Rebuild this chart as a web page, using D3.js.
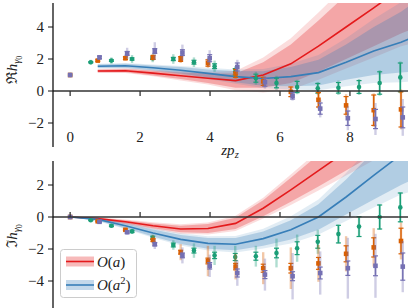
<!DOCTYPE html>
<html>
<head>
<meta charset="utf-8">
<script src="https://cdn.jsdelivr.net/npm/d3@7"></script>
<style>
  body { margin: 0; background: #fff; }
  text { font-family: "Liberation Serif", "DejaVu Serif", serif; }
</style>
</head>
<body>
<div id="chart"></div>
<script>
// z positions of the three lattice data sets
var zGreen  = [0, 0.59, 1.18, 1.77, 2.36, 2.95, 3.54, 4.13, 4.72, 5.31, 5.9, 6.49, 7.08, 7.67, 8.26, 8.85, 9.44];
var zOrange = [0, 0.79, 1.58, 2.37, 3.16, 3.94, 4.73, 5.52, 6.31, 7.1, 7.89, 8.68, 9.46];
var zPurple = [0, 0.84, 1.63, 2.42, 3.21, 3.99, 4.78, 5.57, 6.36, 7.15, 7.94, 8.73, 9.51];

// real part
var reGreen     = [1.0, 1.8, 1.9, 2.0, 2.05, 2.0, 1.8, 1.55, 1.2, 0.8, 0.5, 0.25, 0.17, 0.2, 0.25, 0.5, 0.85];
var reGreenErr  = [0, 0.04, 0.05, 0.07, 0.08, 0.1, 0.12, 0.15, 0.2, 0.25, 0.3, 0.35, 0.3, 0.33, 0.4, 0.7, 0.9];
var reGreenSys  = [0, 0.15, 0.2, 0.25, 0.25, 0.3, 0.3, 0.35, 0.35, 0.4, 0.45, 0.45, 0.4, 0.45, 0.5, 0.8, 1.0];
var reOrange    = [1.0, 1.9, 2.05, 2.1, 2.0, 1.75, 1.1, 0.6, -0.05, -0.55, -0.9, -1.2, -1.15];
var reOrangeErr = [0, 0.05, 0.08, 0.12, 0.15, 0.2, 0.25, 0.25, 0.3, 0.45, 0.55, 0.95, 1.1];
var reOrangeSys = [0, 0.1, 0.15, 0.2, 0.25, 0.3, 0.35, 0.35, 0.35, 0.55, 0.7, 1.05, 1.25];
var rePurple    = [1.0, 2.1, 2.35, 2.5, 2.4, 2.05, 1.5, 0.55, -0.3, -1.1, -1.7, -1.75, -1.65];
var rePurpleErr = [0, 0.08, 0.12, 0.15, 0.18, 0.22, 0.25, 0.25, 0.2, 0.35, 0.45, 0.6, 0.65];
var rePurpleSys = [0, 0.15, 0.35, 0.55, 0.5, 0.5, 0.45, 0.4, 0.3, 0.55, 0.75, 1.0, 1.15];

// imaginary part
var imGreen     = [0, -0.2, -0.55, -0.9, -1.3, -1.75, -2.1, -2.4, -2.5, -2.45, -2.25, -1.95, -1.55, -1.07, -0.6, 0.0, 0.6];
var imGreenErr  = [0, 0.03, 0.05, 0.07, 0.1, 0.12, 0.15, 0.2, 0.22, 0.25, 0.3, 0.4, 0.4, 0.55, 0.62, 0.75, 0.9];
var imGreenSys  = [0, 0.08, 0.1, 0.15, 0.2, 0.3, 0.45, 0.6, 0.7, 0.65, 0.9, 0.85, 0.75, 0.6, 0.65, 0.8, 0.95];
var imOrange    = [0, -0.27, -0.8, -1.44, -2.2, -2.75, -3.1, -3.2, -3.2, -2.9, -2.3, -1.9, -1.5];
var imOrangeErr = [0, 0.03, 0.05, 0.08, 0.12, 0.18, 0.2, 0.25, 0.3, 0.37, 0.5, 0.6, 0.8];
var imOrangeSys = [0, 0.05, 0.12, 0.3, 0.5, 0.95, 0.8, 1.0, 1.3, 1.15, 1.1, 1.2, 1.15];
var imPurple    = [0, -0.3, -0.95, -1.7, -2.4, -3.05, -3.5, -3.6, -3.7, -3.5, -3.2, -3.05, -3.1];
var imPurpleErr = [0, 0.03, 0.06, 0.1, 0.15, 0.2, 0.25, 0.25, 0.28, 0.37, 0.45, 0.62, 0.85];
var imPurpleSys = [0, 0.08, 0.15, 0.3, 0.5, 0.7, 0.8, 1.0, 1.45, 1.35, 1.9, 2.0, 1.6];

// fit bands O(a) (red) and O(a^2) (blue)
var zFitRe     = [0.79, 1.58, 2.37, 3.16, 3.94, 4.73, 5.52, 6.31, 7.1, 7.89, 8.68, 9.46, 9.75];
var reRed      = [1.25, 1.27, 1.12, 0.95, 0.8, 0.65, 1.0, 1.7, 2.8, 4.0, 5.2, 6.4, 6.85];
var reRedErr   = [0.08, 0.1, 0.15, 0.2, 0.3, 0.45, 0.8, 1.2, 1.6, 2.0, 2.4, 2.8, 3.0];
var reRedErr2  = [0.12, 0.15, 0.2, 0.3, 0.4, 0.6, 1.1, 1.6, 2.1, 2.6, 3.1, 3.6, 3.9];
var reBlue     = [1.55, 1.58, 1.45, 1.3, 1.1, 0.9, 0.78, 0.9, 1.15, 1.8, 2.5, 3.05, 3.3];
var reBlueErr  = [0.1, 0.12, 0.15, 0.2, 0.25, 0.35, 0.45, 0.6, 0.8, 1.1, 1.5, 1.9, 2.1];
var reBlueErr2 = [0.15, 0.17, 0.2, 0.27, 0.35, 0.45, 0.6, 0.8, 1.1, 1.5, 2.0, 2.5, 2.7];

var zFitIm     = [0, 0.79, 1.58, 2.37, 3.16, 3.94, 4.73, 5.52, 6.31, 7.1, 7.89, 8.68, 9.46, 9.75];
var imRed      = [0, -0.1, -0.3, -0.55, -0.75, -0.72, -0.4, 0.55, 1.7, 2.9, 4.1, 5.3, 6.5, 6.9];
var imRedErr   = [0, 0.05, 0.1, 0.15, 0.2, 0.28, 0.35, 0.5, 0.75, 1.0, 1.2, 1.4, 1.6, 1.7];
var imRedErr2  = [0, 0.08, 0.15, 0.22, 0.3, 0.38, 0.48, 0.65, 0.95, 1.25, 1.5, 1.75, 2.0, 2.1];
var imBlue     = [0, -0.15, -0.55, -1.0, -1.4, -1.65, -1.7, -1.35, -0.8, 0.0, 1.25, 2.6, 3.9, 4.4];
var imBlueErr  = [0, 0.08, 0.15, 0.22, 0.28, 0.33, 0.38, 0.45, 0.6, 0.8, 1.1, 1.5, 1.9, 2.1];
var imBlueErr2 = [0, 0.12, 0.2, 0.3, 0.38, 0.45, 0.52, 0.62, 0.85, 1.1, 1.5, 2.0, 2.5, 2.8];

var xTicks = [0, 2, 4, 6, 8];
var reTicks = [-2, 0, 2, 4];
var imTicks = [-4, -2, 0, 2];

var colGreen = "#1b9e77", colOrange = "#d95f02", colPurple = "#7570b3";
var colRed = "#e41a1c", colBlue = "#377eb8";

var svg = d3.select("#chart").append("svg")
  .attr("width", 411).attr("height", 308);

var x = d3.scaleLinear().domain([-0.49, 9.66]).range([53, 408]);

function fmt(v) { return v < 0 ? "\u2212" + (-v) : "" + v; }

function panel({id, yDomain, yRange, ticks, tickDir, fits, sets}) {
  var y = d3.scaleLinear().domain(yDomain).range(yRange);
  var g = svg.append("g");

  g.append("clipPath").attr("id", id)
    .append("rect")
      .attr("x", 53).attr("y", yRange[1])
      .attr("width", 355).attr("height", yRange[0] - yRange[1]);

  var plot = g.append("g").attr("clip-path", "url(#" + id + ")");

  // bands
  fits.forEach(function(f) {
    var idx = d3.range(f.z.length);
    [[f.err2, 0.15], [f.err, 0.28]].forEach(function(b) {
      plot.append("path")
        .datum(idx)
        .attr("fill", f.color)
        .attr("fill-opacity", b[1])
        .attr("d", d3.area()
          .x(function(i) { return x(f.z[i]); })
          .y0(function(i) { return y(f.v[i] - b[0][i]); })
          .y1(function(i) { return y(f.v[i] + b[0][i]); }));
    });
  });
  fits.forEach(function(f) {
    plot.append("path")
      .datum(d3.range(f.z.length))
      .attr("fill", "none")
      .attr("stroke", f.color)
      .attr("stroke-width", 1.6)
      .attr("d", d3.line()
        .x(function(i) { return x(f.z[i]); })
        .y(function(i) { return y(f.v[i]); }));
  });

  // zero line / spines
  g.append("line")
    .attr("x1", 53).attr("x2", 408)
    .attr("y1", y(0)).attr("y2", y(0))
    .attr("stroke", "#333").attr("stroke-width", 1.3);
  g.append("line")
    .attr("x1", 53).attr("x2", 53)
    .attr("y1", yRange[1]).attr("y2", yRange[0])
    .attr("stroke", "#111").attr("stroke-width", 1.3);

  xTicks.forEach(function(t) {
    g.append("line")
      .attr("x1", x(t)).attr("x2", x(t))
      .attr("y1", y(0)).attr("y2", y(0) + 5 * tickDir)
      .attr("stroke", "#333").attr("stroke-width", 1.3);
  });
  ticks.forEach(function(t) {
    g.append("line")
      .attr("x1", 48).attr("x2", 53)
      .attr("y1", y(t)).attr("y2", y(t))
      .attr("stroke", "#111").attr("stroke-width", 1);
    g.append("text")
      .attr("x", 44).attr("y", y(t)).attr("dy", "0.34em")
      .attr("text-anchor", "end")
      .attr("font-size", 15)
      .attr("fill", "#222")
      .text(fmt(t));
  });

  // data points with error bars
  sets.forEach(function(s) {
    var pts = plot.append("g");
    s.z.forEach(function(z, i) {
      var cx = x(z), v = s.v[i];
      if (s.sys[i] > 0) {
        pts.append("line")
          .attr("x1", cx).attr("x2", cx)
          .attr("y1", y(v - s.sys[i])).attr("y2", y(v + s.sys[i]))
          .attr("stroke", s.color).attr("stroke-opacity", 0.35)
          .attr("stroke-width", 2.4);
      }
      if (s.err[i] > 0) {
        pts.append("line")
          .attr("x1", cx).attr("x2", cx)
          .attr("y1", y(v - s.err[i])).attr("y2", y(v + s.err[i]))
          .attr("stroke", s.color).attr("stroke-width", 1.4);
        [v - s.err[i], v + s.err[i]].forEach(function(e) {
          pts.append("line")
            .attr("x1", cx - 2.5).attr("x2", cx + 2.5)
            .attr("y1", y(e)).attr("y2", y(e))
            .attr("stroke", s.color).attr("stroke-width", 1.2);
        });
      }
      if (s.shape == "circle") {
        pts.append("circle")
          .attr("cx", cx).attr("cy", y(v)).attr("r", 2.3)
          .attr("fill", s.color);
      } else {
        pts.append("rect")
          .attr("x", cx - 2.3).attr("y", y(v) - 2.3)
          .attr("width", 4.6).attr("height", 4.6)
          .attr("fill", s.color);
      }
    });
  });
  return y;
}

panel({
  id: "clipRe",
  yDomain: [-3.5, 5.5], yRange: [147, 3],
  ticks: reTicks, tickDir: 1,
  fits: [
    {z: zFitRe, v: reRed, err: reRedErr, err2: reRedErr2, color: colRed},
    {z: zFitRe, v: reBlue, err: reBlueErr, err2: reBlueErr2, color: colBlue}
  ],
  sets: [
    {z: zGreen, v: reGreen, err: reGreenErr, sys: reGreenSys, color: colGreen, shape: "circle"},
    {z: zOrange, v: reOrange, err: reOrangeErr, sys: reOrangeSys, color: colOrange, shape: "square"},
    {z: zPurple, v: rePurple, err: rePurpleErr, sys: rePurpleSys, color: colPurple, shape: "square"}
  ]
});

panel({
  id: "clipIm",
  yDomain: [-6, 3.5], yRange: [313, 161],
  ticks: imTicks, tickDir: -1,
  fits: [
    {z: zFitIm, v: imRed, err: imRedErr, err2: imRedErr2, color: colRed},
    {z: zFitIm, v: imBlue, err: imBlueErr, err2: imBlueErr2, color: colBlue}
  ],
  sets: [
    {z: zGreen, v: imGreen, err: imGreenErr, sys: imGreenSys, color: colGreen, shape: "circle"},
    {z: zOrange, v: imOrange, err: imOrangeErr, sys: imOrangeSys, color: colOrange, shape: "square"},
    {z: zPurple, v: imPurple, err: imPurpleErr, sys: imPurpleSys, color: colPurple, shape: "square"}
  ]
});

// x tick labels under the top panel
xTicks.forEach(function(t) {
  svg.append("text")
    .attr("x", x(t)).attr("y", 142)
    .attr("text-anchor", "middle")
    .attr("font-size", 15).attr("fill", "#222")
    .text(t);
});

// x label zp_z
var xl = svg.append("text")
  .attr("x", 230).attr("y", 155)
  .attr("text-anchor", "middle")
  .attr("font-size", 15).attr("fill", "#222");
xl.append("tspan").attr("font-style", "italic").text("zp");
xl.append("tspan").attr("font-style", "italic").attr("font-size", 10.5).attr("dy", 3).text("z");

// y labels
function ylabel(cy, sym) {
  var t = svg.append("text")
    .attr("transform", "translate(17," + cy + ") rotate(-90)")
    .attr("text-anchor", "middle")
    .attr("font-size", 15).attr("fill", "#222");
  t.append("tspan").text(sym);
  t.append("tspan").attr("font-style", "italic").text("h");
  t.append("tspan").attr("font-style", "italic").attr("font-size", 10.5).attr("dy", 3).text("\u03b3");
  t.append("tspan").attr("font-size", 8).attr("dy", 2).text("0");
}
ylabel(70, "\u211c");
ylabel(236, "\u2111");

// legend
var lg = svg.append("g");
lg.append("rect")
  .attr("x", 60.5).attr("y", 249.5)
  .attr("width", 76).attr("height", 48).attr("rx", 3)
  .attr("fill", "#fff").attr("fill-opacity", 0.85)
  .attr("stroke", "#ccc");

[{color: colRed, y: 261.5, sup: false}, {color: colBlue, y: 285, sup: true}].forEach(function(d) {
  lg.append("rect")
    .attr("x", 66).attr("y", d.y - 5)
    .attr("width", 28).attr("height", 10)
    .attr("fill", d.color).attr("fill-opacity", 0.3);
  lg.append("line")
    .attr("x1", 66).attr("x2", 94)
    .attr("y1", d.y).attr("y2", d.y)
    .attr("stroke", d.color).attr("stroke-width", 1.6);
  var t = lg.append("text")
    .attr("x", 97).attr("y", d.y + 5)
    .attr("font-size", 15).attr("fill", "#222");
  t.append("tspan").attr("font-style", "italic").text("O");
  t.append("tspan").text("(");
  t.append("tspan").attr("font-style", "italic").text("a");
  if (d.sup) {
    t.append("tspan").attr("font-size", 10.5).attr("dy", -6).text("2");
    t.append("tspan").attr("dy", 6).text(")");
  } else {
    t.append("tspan").text(")");
  }
});
</script>
</body>
</html>
